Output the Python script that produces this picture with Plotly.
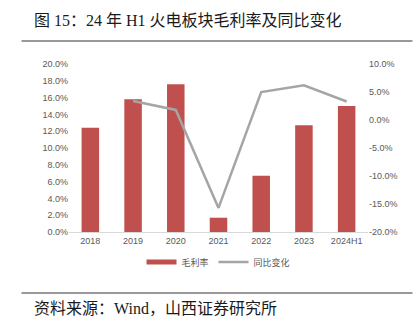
import plotly.graph_objects as go

categories = ["2018", "2019", "2020", "2021", "2022", "2023", "2024H1"]
gross_margin = [12.4, 15.8, 17.6, 1.7, 6.7, 12.7, 15.0]
yoy_change = [None, 3.4, 1.8, -15.7, 5.0, 6.2, 3.3]
left_ticks = [0, 2, 4, 6, 8, 10, 12, 14, 16, 18, 20]
right_ticks = [-20, -15, -10, -5, 0, 5, 10]

W, H = 418, 329
L, R, T, B = 68.6, 49.6, 64, 97
pw, ph = W - L - R, H - T - B

def px(x):
    return (x - L) / pw

def py(y):
    return (H - B - y) / ph

tick_font = dict(family="Liberation Sans, Arial, sans-serif", size=9, color="#595959")
BAR_COLOR = "#C0504D"

fig = go.Figure()
fig.add_trace(go.Bar(
    x=categories, y=gross_margin, name="毛利率",
    marker=dict(color=BAR_COLOR, line=dict(width=0)),
    yaxis="y", showlegend=False,
))
# legend swatch for bars (wide thin rectangle like the reference)
fig.add_trace(go.Scatter(
    x=[categories[0]], y=[None], name="毛利率", mode="lines",
    line=dict(color=BAR_COLOR, width=5), yaxis="y", hoverinfo="skip",
))
fig.add_trace(go.Scatter(
    x=categories, y=yoy_change, name="同比变化", mode="lines",
    line=dict(color="#A5A5A5", width=2.5),
    yaxis="y2", connectgaps=False,
))

fig.update_layout(
    width=W, height=H,
    margin=dict(l=L, r=R, t=T, b=B),
    paper_bgcolor="white", plot_bgcolor="white",
    bargap=0.59,
    showlegend=True,
    legend=dict(orientation="h", x=0.5, xanchor="center", y=py(262), yanchor="middle",
                font=dict(family="Noto Sans CJK SC", size=9, color="#595959"),
                itemwidth=30, tracegroupgap=0),
    xaxis=dict(type="category", showline=True, linecolor="#D9D9D9", linewidth=1,
               ticks="", tickfont=tick_font, showgrid=False),
    yaxis=dict(range=[0, 20], tickvals=left_ticks,
               ticktext=[f"{v:.1f}%" for v in left_ticks],
               showgrid=False, zeroline=False, tickfont=tick_font, ticks=""),
    yaxis2=dict(range=[-20, 10], tickvals=right_ticks,
                ticktext=[f"{v:.1f}%" for v in right_ticks],
                overlaying="y", side="right", showgrid=False, zeroline=False,
                tickfont=tick_font, ticks=""),
    font=dict(family="Noto Sans CJK SC"),
)

serif_cjk = "Liberation Serif, Noto Sans CJK SC"
fig.add_annotation(
    text="图 15：24 年 H1 火电板块毛利率及同比变化",
    xref="paper", yref="paper", x=px(31), y=py(20), xanchor="left", yanchor="middle",
    showarrow=False, font=dict(family=serif_cjk, size=16, color="#1a1a1a"),
)
fig.add_annotation(
    text="资料来源：Wind，山西证券研究所",
    xref="paper", yref="paper", x=px(31), y=py(308), xanchor="left", yanchor="middle",
    showarrow=False, font=dict(family=serif_cjk, size=16, color="#1a1a1a"),
)
for yy in (41, 293):
    fig.add_shape(type="line", xref="paper", yref="paper",
                  x0=px(21), x1=px(413), y0=py(yy), y1=py(yy),
                  line=dict(color="#333333", width=1))

fig.write_html("out.html")
